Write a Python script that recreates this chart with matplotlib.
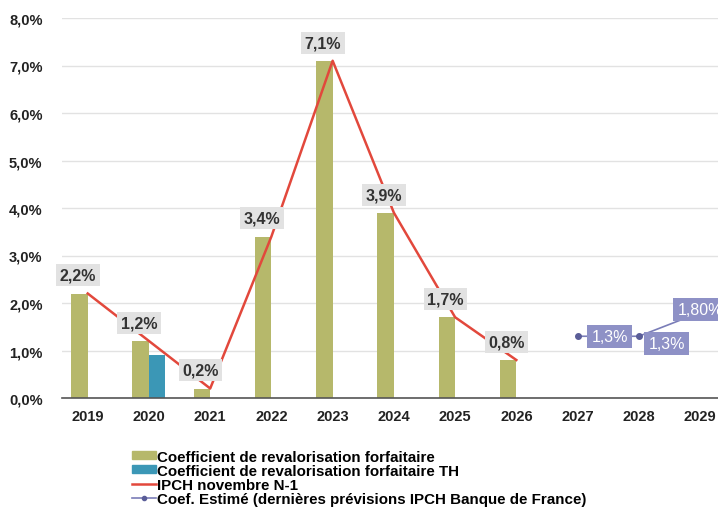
import numpy as np
import matplotlib.pyplot as plt
from matplotlib.lines import Line2D
from matplotlib.patches import Patch

plt.rcParams['font.family'] = ['Liberation Sans', 'DejaVu Sans']

years = ["2019", "2020", "2021", "2022", "2023", "2024", "2025", "2026", "2027", "2028", "2029"]
coef = [2.2, 1.2, 0.2, 3.4, 7.1, 3.9, 1.7, 0.8]
coef_th = {"2020": 0.9}
ipch = [2.2, 1.2, 0.2, 3.4, 7.1, 3.9, 1.7, 0.8]
estime_years = ["2027", "2028", "2029"]
estime = [1.3, 1.3, 1.8]
estime_labels = ["1,3%", "1,3%", "1,80%"]

olive = "#b6b86b"
teal = "#3b97b6"
red = "#e2483c"
purple = "#7a7db8"
purple_box = "#8e91c6"

fig = plt.figure(figsize=(7.18, 5.10), dpi=100)
ax = fig.add_axes([62 / 718, 111 / 510, 676 / 718, 380 / 510])

x = np.arange(len(years))
w = 0.27
ax.bar(x[:len(coef)] - w / 2, coef, width=w, color=olive, zorder=2)
th_x = [years.index(y) for y in coef_th]
ax.bar(np.array(th_x) + w / 2, list(coef_th.values()), width=w, color=teal, zorder=2)

ax.plot(x[:len(ipch)], ipch, color=red, lw=1.8, zorder=3)

ex = [years.index(y) for y in estime_years]
ax.plot(ex, estime, color=purple, lw=1.2, marker="o", ms=4,
        mfc="#5a5d98", mec="#5a5d98", zorder=3)

# labels on the IPCH / coefficient values
for xi, v in zip(x[:len(ipch)], ipch):
    ax.annotate(f"{v:.1f}%".replace(".", ","), (xi, v), xytext=(-7, 13),
                textcoords="offset points", ha="center", va="center",
                fontsize=11.5, fontweight="bold", color="#333333", zorder=5,
                bbox=dict(boxstyle="square,pad=0.22", fc="#e2e2e2", ec="none"))

# labels on the estimated values
offsets = [(23, 0), (20, -5), (0, 2)]
for xi, v, lab, off in zip(ex, estime, estime_labels, offsets):
    ax.annotate(lab, (xi, v), xytext=off, textcoords="offset points",
                ha="center", va="center", fontsize=11.5, color="white", zorder=5,
                bbox=dict(boxstyle="square,pad=0.25", fc=purple_box, ec="none"))

ax.set_xlim(-0.42, 10.62)
ax.set_ylim(0, 8)
ax.set_yticks(np.arange(0, 9, 1))
ax.set_yticklabels([f"{v:.1f}%".replace(".", ",") for v in range(9)])
ax.set_xticks(x)
ax.set_xticklabels(years)
for lab in ax.get_xticklabels() + ax.get_yticklabels():
    lab.set_fontweight("bold")
    lab.set_fontsize(10.5)
    lab.set_color("#222222")
ax.tick_params(length=0, pad=8)
ax.tick_params(axis="y", pad=14)
ax.grid(axis="y", color="#e2e2e2", lw=1, zorder=0)
for s in ["top", "right", "left"]:
    ax.spines[s].set_visible(False)
ax.spines["bottom"].set_color("#555555")
ax.spines["bottom"].set_linewidth(1.2)

handles = [
    Patch(color=olive),
    Patch(color=teal),
    Line2D([], [], color=red, lw=1.8),
    Line2D([], [], color=purple, lw=1.2, marker="o", ms=3, mfc="#5a5d98", mec="#5a5d98"),
]
labels = [
    "Coefficient de revalorisation forfaitaire",
    "Coefficient de revalorisation forfaitaire TH",
    "IPCH novembre N-1",
    "Coef. Estimé (dernières prévisions IPCH Banque de France)",
]
fig.legend(handles, labels, loc="upper left", bbox_to_anchor=(124 / 718, 1 - 443 / 510),
           frameon=False, handlelength=1.6, handleheight=0.45,
           handletextpad=0.1, labelspacing=0.0, borderpad=0,
           prop=dict(weight="bold", size=10.9))

fig.savefig("out.png", dpi=100)
